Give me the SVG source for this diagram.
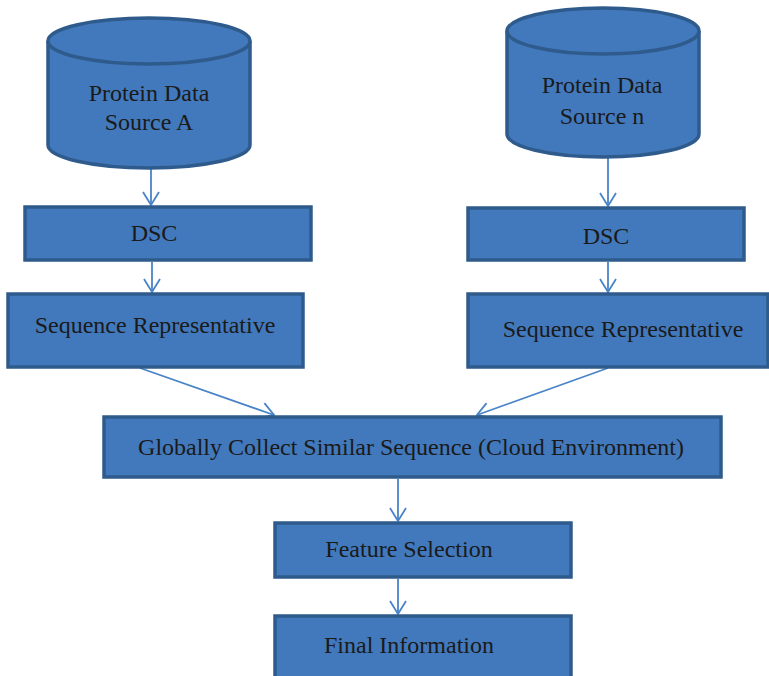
<svg xmlns="http://www.w3.org/2000/svg" width="769" height="676" viewBox="0 0 769 676">
<style>
.box{fill:#4279bc;stroke:#2f5b8c;stroke-width:3.5}
.t{font-family:"Liberation Serif","Times New Roman",serif;font-size:24px;fill:#1a1a1a;text-anchor:middle}
.c{stroke:#4a84c8;stroke-width:1.8;fill:none}
</style>
<defs>
<marker id="ah" viewBox="0 0 15 18" refX="14" refY="9" markerWidth="15" markerHeight="18" markerUnits="userSpaceOnUse" orient="auto">
<path d="M1,1 L14,9 L1,17" fill="none" stroke="#4a84c8" stroke-width="1.8"/>
</marker>
</defs>
<rect width="769" height="676" fill="#ffffff"/>
<g id="connectors">
<line class="c" x1="151" y1="168" x2="151" y2="205" marker-end="url(#ah)"/>
<line class="c" x1="152" y1="262" x2="152" y2="292" marker-end="url(#ah)"/>
<line class="c" x1="608" y1="158" x2="608" y2="206" marker-end="url(#ah)"/>
<line class="c" x1="608" y1="262" x2="608" y2="292" marker-end="url(#ah)"/>
<line class="c" x1="140" y1="368" x2="274" y2="415" marker-end="url(#ah)"/>
<line class="c" x1="608" y1="368" x2="477" y2="415" marker-end="url(#ah)"/>
<line class="c" x1="398" y1="479" x2="398" y2="521" marker-end="url(#ah)"/>
<line class="c" x1="398" y1="579" x2="398" y2="614" marker-end="url(#ah)"/>
</g>
<g id="srcA">
<path class="box" d="M48,41 L48,145 A101,23 0 0 0 250,145 L250,41"/>
<ellipse class="box" cx="149" cy="41" rx="101" ry="23"/>
<text class="t" x="149" y="101">Protein Data</text>
<text class="t" x="149" y="130">Source A</text>
</g>
<g id="srcN">
<path class="box" d="M507,31 L507,134 A96,23 0 0 0 699,134 L699,31"/>
<ellipse class="box" cx="603" cy="31" rx="96" ry="23"/>
<text class="t" x="602" y="93">Protein Data</text>
<text class="t" x="602" y="124">Source n</text>
</g>
<g id="dscA">
<rect class="box" x="25" y="207" width="286" height="53"/>
<text class="t" x="154" y="241">DSC</text>
</g>
<g id="dscN">
<rect class="box" x="468" y="208" width="276" height="52"/>
<text class="t" x="606" y="244">DSC</text>
</g>
<g id="seqA">
<rect class="box" x="8" y="294" width="295" height="73"/>
<text class="t" x="155" y="333">Sequence Representative</text>
</g>
<g id="seqN">
<rect class="box" x="468" y="294" width="300" height="73"/>
<text class="t" x="623" y="337">Sequence Representative</text>
</g>
<g id="global">
<rect class="box" x="104" y="417" width="617" height="60"/>
<text class="t" x="411" y="455">Globally Collect Similar Sequence (Cloud Environment)</text>
</g>
<g id="feature">
<rect class="box" x="275" y="523" width="296" height="54"/>
<text class="t" x="409" y="557">Feature Selection</text>
</g>
<g id="final">
<rect class="box" x="275" y="616" width="296" height="62"/>
<text class="t" x="409" y="653">Final Information</text>
</g>
</svg>
